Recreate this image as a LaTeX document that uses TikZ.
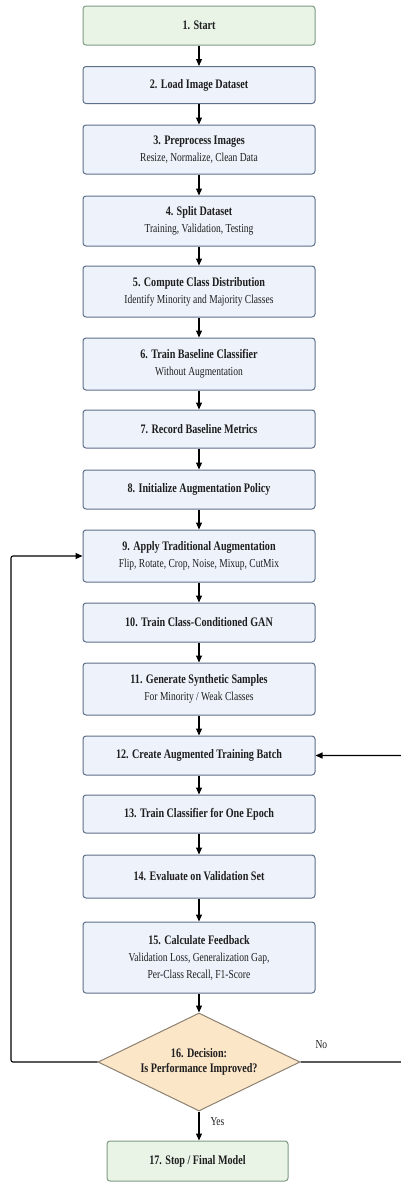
\documentclass[tikz,border=0pt]{standalone}
\usepackage{fontspec}
\setmainfont{Liberation Serif}[FakeStretch=0.78]
\usetikzlibrary{shapes.geometric,arrows.meta}
\definecolor{boxfill}{HTML}{EEF3FB}
\definecolor{boxdraw}{HTML}{5E6F8A}
\definecolor{greenfill}{HTML}{E9F4E7}
\definecolor{greendraw}{HTML}{7F9A83}
\definecolor{decfill}{HTML}{FCE6C8}
\definecolor{decdraw}{HTML}{8C8070}
\definecolor{txt}{HTML}{1E1E1E}
\newcommand{\ttl}[1]{{\fontsize{13}{17}\selectfont\bfseries #1}}
\tikzset{
  stepbox/.style={draw=boxdraw, fill=boxfill, rounded corners=3pt, line width=1pt,
    minimum width=232pt, inner sep=0pt, align=center, text=txt,
    font=\fontsize{12.2}{17}\selectfont},
  greenbox/.style={stepbox, draw=greendraw, fill=greenfill},
  decbox/.style={draw=decdraw, fill=decfill, diamond, line width=1pt, aspect=2.06,
    minimum width=202pt, minimum height=98pt, inner sep=0pt, align=center, text=txt,
    font=\fontsize{13}{14.5}\selectfont\bfseries},
  arr/.style={-{Triangle[length=7pt,width=6pt]}, line width=1.1pt, black},
  loop/.style={arr, rounded corners=2pt},
  lbl/.style={font=\fontsize{12.2}{14}\selectfont, text=txt}
}
\begin{document}
\begin{tikzpicture}[x=1pt,y={(0pt,-1pt)}]
\useasboundingbox (0,0) rectangle (401,1183);
\node[greenbox, minimum height=39pt] (n1) at (199,25.5) {\ttl{1. Start}};
\node[stepbox, minimum height=37pt] (n2) at (199,85) {\ttl{2. Load Image Dataset}};
\node[stepbox, minimum height=49pt] (n3) at (199,149.5) {\ttl{3. Preprocess Images}\\Resize, Normalize, Clean Data};
\node[stepbox, minimum height=50pt] (n4) at (199,221) {\ttl{4. Split Dataset}\\Training, Validation, Testing};
\node[stepbox, minimum height=51pt] (n5) at (199,291.5) {\ttl{5. Compute Class Distribution}\\Identify Minority and Majority Classes};
\node[stepbox, minimum height=52pt] (n6) at (199,364) {\ttl{6. Train Baseline Classifier}\\Without Augmentation};
\node[stepbox, minimum height=38pt] (n7) at (199,429) {\ttl{7. Record Baseline Metrics}};
\node[stepbox, minimum height=39pt] (n8) at (199,489.5) {\ttl{8. Initialize Augmentation Policy}};
\node[stepbox, minimum height=52pt] (n9) at (199,556) {\ttl{9. Apply Traditional Augmentation}\\Flip, Rotate, Crop, Noise, Mixup, CutMix};
\node[stepbox, minimum height=39pt] (n10) at (199,622.5) {\ttl{10. Train Class-Conditioned GAN}};
\node[stepbox, minimum height=52pt] (n11) at (199,689) {\ttl{11. Generate Synthetic Samples}\\For Minority / Weak Classes};
\node[stepbox, minimum height=39pt] (n12) at (199,755.5) {\ttl{12. Create Augmented Training Batch}};
\node[stepbox, minimum height=38pt] (n13) at (199,814) {\ttl{13. Train Classifier for One Epoch}};
\node[stepbox, minimum height=43pt] (n14) at (199,876.5) {\ttl{14. Evaluate on Validation Set}};
\node[stepbox, minimum height=71pt] (n15) at (199,957.5) {\ttl{15. Calculate Feedback}\\Validation Loss, Generalization Gap,\\Per-Class Recall, F1-Score};
\node[decbox] (n16) at (199,1062) {16. Decision:\\Is Performance Improved?};
\node[greenbox, minimum width=181pt, minimum height=40pt] (n17) at (197.5,1161) {\ttl{17. Stop / Final Model}};
\foreach \a/\b in {n1/n2,n2/n3,n3/n4,n4/n5,n5/n6,n6/n7,n7/n8,n8/n9,n9/n10,n10/n11,n11/n12,n12/n13,n13/n14,n14/n15,n15/n16}
  \draw[arr] (\a.south) -- (\b.north);
\draw[arr] (n16.south) -- (n16.south |- n17.north);
\coordinate (lc) at (11,1062);
\coordinate (lt) at (11,556);
\coordinate (rc) at (403,1062);
\coordinate (rt) at (403,755.5);
\draw[loop] (n16.west) -- (lc) -- (lt) -- (n9.west);
\draw[loop] (n16.east) -- (rc) -- (rt) -- (n12.east);
\node[lbl, anchor=west] (no) at (312,1045) {No};
\node[lbl, anchor=west] (yes) at (207,1122) {Yes};
\end{tikzpicture}
\end{document}
